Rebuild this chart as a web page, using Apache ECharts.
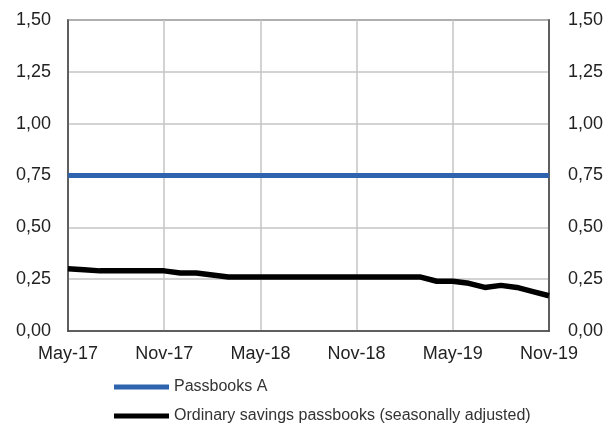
<!DOCTYPE html>
<html>
<head>
<meta charset="utf-8">
<script src="https://cdn.jsdelivr.net/npm/echarts@6/dist/echarts.min.js"></script>
<style>html,body{margin:0;padding:0;background:#fff}#c{width:611px;height:432px}</style>
</head>
<body>
<div id="c"></div>
<script>
var categories = ['May-17','Jun-17','Jul-17','Aug-17','Sep-17','Oct-17','Nov-17','Dec-17','Jan-18','Feb-18','Mar-18','Apr-18','May-18','Jun-18','Jul-18','Aug-18','Sep-18','Oct-18','Nov-18','Dec-18','Jan-19','Feb-19','Mar-19','Apr-19','May-19','Jun-19','Jul-19','Aug-19','Sep-19','Oct-19','Nov-19'];
var passbooksA = [0.75,0.75,0.75,0.75,0.75,0.75,0.75,0.75,0.75,0.75,0.75,0.75,0.75,0.75,0.75,0.75,0.75,0.75,0.75,0.75,0.75,0.75,0.75,0.75,0.75,0.75,0.75,0.75,0.75,0.75,0.75];
var ordinary = [0.30,0.295,0.29,0.29,0.29,0.29,0.29,0.28,0.28,0.27,0.26,0.26,0.26,0.26,0.26,0.26,0.26,0.26,0.26,0.26,0.26,0.26,0.26,0.24,0.24,0.23,0.21,0.22,0.21,0.19,0.17];
var seriesNames = ['Passbooks A','Ordinary savings passbooks (seasonally adjusted)'];

var fmt = function (v) { return v.toFixed(2).replace('.', ','); };
var tickFont = {fontFamily: 'Liberation Sans, Arial, sans-serif', fontSize: 18, color: '#222'};

var chart = echarts.init(document.getElementById('c'), null, {renderer: 'canvas'});
chart.setOption({
  animation: false,
  grid: {left: 68, right: 62, top: 20, bottom: 101, show: true, borderColor: '#444', borderWidth: 1.5, containLabel: false},
  legend: {
    orient: 'vertical', left: 109, top: 374, itemWidth: 55, itemHeight: 5, itemGap: 13,
    icon: 'rect',
    textStyle: {fontFamily: 'Liberation Sans, Arial, sans-serif', fontSize: 16, color: '#333'},
    data: seriesNames
  },
  xAxis: {
    type: 'category', data: categories, boundaryGap: false,
    axisLine: {show: true, lineStyle: {color: '#444', width: 1.5}},
    axisTick: {show: false},
    axisLabel: Object.assign({interval: 5, margin: 14, showMaxLabel: true}, tickFont),
    splitLine: {show: true, interval: 5, lineStyle: {color: '#c4c4c4', width: 1.5}}
  },
  yAxis: [
    {type: 'value', min: 0, max: 1.5, interval: 0.25, position: 'left',
     axisLine: {show: true, lineStyle: {color: '#444', width: 1.5}}, axisTick: {show: false},
     axisLabel: Object.assign({formatter: fmt, margin: 17}, tickFont),
     splitLine: {show: true, lineStyle: {color: '#c4c4c4', width: 1.5}}},
    {type: 'value', min: 0, max: 1.5, interval: 0.25, position: 'right',
     axisLine: {show: true, lineStyle: {color: '#444', width: 1.5}}, axisTick: {show: false},
     axisLabel: Object.assign({formatter: fmt, margin: 19}, tickFont),
     splitLine: {show: false}}
  ],
  series: [
    {name: seriesNames[0], type: 'line', data: passbooksA, symbol: 'none', color: '#2e64ad', lineStyle: {width: 5, color: '#2e64ad'}},
    {name: seriesNames[1], type: 'line', data: ordinary, symbol: 'none', color: '#000', lineStyle: {width: 5.5, color: '#000', join: 'round'}}
  ]
});
</script>
</body>
</html>
